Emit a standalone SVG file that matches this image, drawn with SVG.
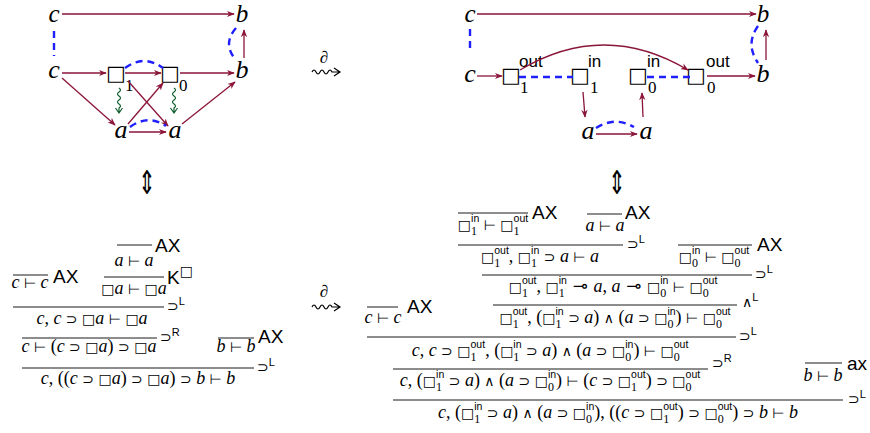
<svg xmlns="http://www.w3.org/2000/svg" width="870" height="433" viewBox="0 0 870 433">
<style>
.v{font-family:"Liberation Serif",serif;font-style:italic;font-size:26px;text-anchor:middle}
.vt{font-family:"Liberation Serif",serif;font-style:italic;font-size:25px;text-anchor:middle}
.dg{font-family:"Liberation Serif",serif;font-size:17px}
.sq{font-family:"DejaVu Sans",sans-serif;font-size:21px;text-anchor:middle}
.ss{font-family:"Liberation Sans",sans-serif;font-size:17px}
.e{fill:none;stroke:#8a1538;stroke-width:1.3;marker-end:url(#ah)}
.d{fill:none;stroke:#1f1fff;stroke-width:2.4;stroke-dasharray:7 5}
.g{fill:none;stroke:#0e5e2e;stroke-width:1.2}
.k{fill:none;stroke:#000;stroke-width:1.2}
.pl{stroke:#000;stroke-width:0.9}
.t{font-family:"Liberation Serif","DejaVu Serif",serif;font-size:18px;text-anchor:middle}
.i{font-style:italic}
.o{font-family:"DejaVu Sans",sans-serif;font-size:14px}
.ml{font-family:"DejaVu Sans",sans-serif;font-size:18px}
.b{font-family:"DejaVu Sans",sans-serif;font-size:14px}
.u{font-family:"Liberation Serif",serif;font-size:12px}
.p{font-family:"Liberation Sans",sans-serif;font-size:10.5px}
.lb{font-family:"Liberation Sans",sans-serif;font-size:19px}
.ls{font-family:"Liberation Sans",sans-serif;font-size:11px}
.ar{font-family:"DejaVu Sans",sans-serif;font-size:26px;text-anchor:middle}
</style>
<defs>
<marker id="ah" viewBox="0 0 10 10" refX="9" refY="5" markerWidth="8" markerHeight="8" markerUnits="userSpaceOnUse" orient="auto"><path d="M0,1 L10,5 L0,9 L3,5 z" fill="#8a1538"/></marker>
</defs>

<!-- top-left diagram -->
<g id="tl-c1"><text class="vt" x="54" y="22">c</text></g>
<g id="tl-b1"><text class="vt" x="242" y="22">b</text></g>
<g id="tl-c2"><text class="v" x="54" y="78">c</text></g>
<g id="tl-box1"><text class="sq" x="116" y="80">□</text><text class="dg" x="125" y="91">1</text></g>
<g id="tl-box0"><text class="sq" x="170" y="80">□</text><text class="dg" x="179" y="91">0</text></g>
<g id="tl-b2"><text class="v" x="242" y="78">b</text></g>
<g id="tl-a1"><text class="v" x="121" y="138">a</text></g>
<g id="tl-a2"><text class="v" x="175" y="138">a</text></g>

<!-- top-right diagram -->
<g id="tr-c1"><text class="vt" x="470" y="22">c</text></g>
<g id="tr-b1"><text class="vt" x="763" y="22">b</text></g>
<g id="tr-c2"><text class="v" x="470" y="82">c</text></g>
<g id="tr-box1out"><text class="sq" x="511" y="82">□</text><text class="ss" x="519" y="67">out</text><text class="dg" x="520" y="93">1</text></g>
<g id="tr-box1in"><text class="sq" x="580" y="82">□</text><text class="ss" x="588" y="67">in</text><text class="dg" x="590" y="93">1</text></g>
<g id="tr-box0in"><text class="sq" x="638" y="82">□</text><text class="ss" x="647" y="67">in</text><text class="dg" x="648" y="93">0</text></g>
<g id="tr-box0out"><text class="sq" x="696" y="82">□</text><text class="ss" x="706" y="67">out</text><text class="dg" x="707" y="93">0</text></g>
<g id="tr-b2"><text class="v" x="763" y="82">b</text></g>
<g id="tr-a1"><text class="v" x="588" y="139">a</text></g>
<g id="tr-a2"><text class="v" x="646" y="139">a</text></g>

<g id="connectors">
<path class="e" d="M62,14 H234"/>
<path class="e" d="M62,73 H106"/>
<path class="e" d="M125,73 H161"/>
<path class="e" d="M180,73 H234"/>
<path class="e" d="M62,78 L115,125"/>
<path class="e" d="M128,81 L168,126"/>
<path class="e" d="M128,124 L163,83"/>
<path class="e" d="M182,124 L235,82"/>
<path class="e" d="M129,132 H166"/>
<path class="e" d="M244,58 V30"/>
<path class="d" d="M54,31 V56"/>
<path class="d" d="M125,68 Q144,54 163,68"/>
<path class="d" d="M130,127 Q148,114 166,126"/>
<path class="d" d="M236,28 Q222,44 236,60"/>
<path class="g" d="M119,88 q3,2 0,4 q-3,2 0,4 q3,2 0,4 q-3,2 0,4 q3,2 0,4 l0,5 M115.5,108 L119,113 L122.5,108"/>
<path class="g" d="M174,88 q3,2 0,4 q-3,2 0,4 q3,2 0,4 q-3,2 0,4 q3,2 0,4 l0,5 M170.5,108 L174,113 L177.5,108"/>

<path class="e" d="M477,14 H756"/>
<path class="e" d="M477,76 H502"/>
<path class="e" d="M707,76 H755"/>
<path class="e" d="M520,70 Q604,20 688,70"/>
<path class="e" d="M583,92 L585,117"/>
<path class="e" d="M643,117 L642,93"/>
<path class="e" d="M596,134 H637"/>
<path class="e" d="M766,60 V30"/>
<path class="d" d="M470,29 V53"/>
<path class="d" d="M519,77 H573"/>
<path class="d" d="M647,77 H690"/>
<path class="d" d="M596,128 Q615,116 634,127"/>
<path class="d" d="M758,26 Q745,44 758,63"/>

<path class="k" d="M312,72 q2,-4 4,0 q2,4 4,0 q2,-4 4,0 q2,4 4,0 q2,-4 4,0 l8,0 M334,68 L340,72 L334,76"/>
<path class="k" d="M312,307 q2,-4 4,0 q2,4 4,0 q2,-4 4,0 q2,4 4,0 q2,-4 4,0 l8,0 M334,303 L340,307 L334,311"/>
</g>

<g id="between">
<text x="324" y="63" font-family="Liberation Serif, serif" font-style="italic" font-size="17" text-anchor="middle">∂</text>
<text x="324" y="297" font-family="Liberation Serif, serif" font-style="italic" font-size="17" text-anchor="middle">∂</text>
<text class="ar" transform="translate(147,194) scale(0.8,1.25)">⇕</text>
<text class="ar" transform="translate(617,194) scale(0.8,1.25)">⇕</text>
</g>

<!-- left proof -->
<g id="proof-left">
<line class="pl" x1="117" y1="245" x2="152" y2="245"/>
<text class="lb" x="155" y="252">AX</text>
<text class="t" x="134" y="266"><tspan class="i">a</tspan><tspan class="o"> ⊢ </tspan><tspan class="i">a</tspan></text>
<line class="pl" x1="13" y1="275" x2="48" y2="275"/>
<text class="lb" x="53" y="283">AX</text>
<text class="t" x="30" y="288"><tspan class="i">c</tspan><tspan class="o"> ⊢ </tspan><tspan class="i">c</tspan></text>
<line class="pl" x1="104" y1="277" x2="164" y2="277"/>
<text class="lb" x="167" y="284">K<tspan class="b" font-size="8" dy="-8">□</tspan></text>
<text class="t" x="134" y="294"><tspan class="b">□</tspan><tspan class="i">a</tspan><tspan class="o"> ⊢ </tspan><tspan class="b">□</tspan><tspan class="i">a</tspan></text>
<line class="pl" x1="13" y1="307" x2="164" y2="307"/>
<text x="167" y="311"><tspan class="o">⊃</tspan><tspan class="ls" dy="-6">L</tspan></text>
<text class="t" x="92" y="324"><tspan class="i">c</tspan>, <tspan class="i">c</tspan><tspan class="o"> ⊃ </tspan><tspan class="b">□</tspan><tspan class="i">a</tspan><tspan class="o"> ⊢ </tspan><tspan class="b">□</tspan><tspan class="i">a</tspan></text>
<line class="pl" x1="22" y1="338" x2="157" y2="338"/>
<text x="160" y="342"><tspan class="o">⊃</tspan><tspan class="ls" dy="-6">R</tspan></text>
<text class="t" x="89" y="352"><tspan class="i">c</tspan><tspan class="o"> ⊢ </tspan>(<tspan class="i">c</tspan><tspan class="o"> ⊃ </tspan><tspan class="b">□</tspan><tspan class="i">a</tspan>)<tspan class="o"> ⊃ </tspan><tspan class="b">□</tspan><tspan class="i">a</tspan></text>
<line class="pl" x1="218" y1="338" x2="254" y2="338"/>
<text class="lb" x="258" y="343">AX</text>
<text class="t" x="236" y="352"><tspan class="i">b</tspan><tspan class="o"> ⊢ </tspan><tspan class="i">b</tspan></text>
<line class="pl" x1="22" y1="368" x2="254" y2="368"/>
<text x="257" y="372"><tspan class="o">⊃</tspan><tspan class="ls" dy="-6">L</tspan></text>
<text class="t" x="138" y="384"><tspan class="i">c</tspan>, ((<tspan class="i">c</tspan><tspan class="o"> ⊃ </tspan><tspan class="b">□</tspan><tspan class="i">a</tspan>)<tspan class="o"> ⊃ </tspan><tspan class="b">□</tspan><tspan class="i">a</tspan>)<tspan class="o"> ⊃ </tspan><tspan class="i">b</tspan><tspan class="o"> ⊢ </tspan><tspan class="i">b</tspan></text>
</g>

<!-- right proof -->
<g id="proof-right">
<line class="pl" x1="458" y1="213" x2="528" y2="213"/>
<text class="lb" x="532" y="219">AX</text>
<text class="t" x="493" y="230"><tspan class="b">□</tspan><tspan class="u" dy="5">1</tspan><tspan class="p" dx="-6" dy="-13">in</tspan><tspan class="o" dy="8"> ⊢ </tspan><tspan class="b">□</tspan><tspan class="u" dy="5">1</tspan><tspan class="p" dx="-6" dy="-13">out</tspan></text>
<line class="pl" x1="587" y1="214" x2="622" y2="214"/>
<text class="lb" x="625" y="219">AX</text>
<text class="t" x="605" y="231"><tspan class="i">a</tspan><tspan class="o"> ⊢ </tspan><tspan class="i">a</tspan></text>
<line class="pl" x1="458" y1="245" x2="623" y2="245"/>
<text x="627" y="249"><tspan class="o">⊃</tspan><tspan class="ls" dy="-6">L</tspan></text>
<text class="t" x="540" y="262"><tspan class="b">□</tspan><tspan class="u" dy="5">1</tspan><tspan class="p" dx="-6" dy="-13">out</tspan><tspan dy="8">, </tspan><tspan class="b">□</tspan><tspan class="u" dy="5">1</tspan><tspan class="p" dx="-6" dy="-13">in</tspan><tspan class="o" dy="8"> ⊃ </tspan><tspan class="i">a</tspan><tspan class="o"> ⊢ </tspan><tspan class="i">a</tspan></text>
<line class="pl" x1="678" y1="245" x2="752" y2="245"/>
<text class="lb" x="757" y="251">AX</text>
<text class="t" x="714" y="262"><tspan class="b">□</tspan><tspan class="u" dy="5">0</tspan><tspan class="p" dx="-6" dy="-13">in</tspan><tspan class="o" dy="8"> ⊢ </tspan><tspan class="b">□</tspan><tspan class="u" dy="5">0</tspan><tspan class="p" dx="-6" dy="-13">out</tspan></text>
<line class="pl" x1="482" y1="275" x2="752" y2="275"/>
<text x="755" y="279"><tspan class="o">⊃</tspan><tspan class="ls" dy="-6">L</tspan></text>
<text class="t" x="613" y="292"><tspan class="b">□</tspan><tspan class="u" dy="5">1</tspan><tspan class="p" dx="-6" dy="-13">out</tspan><tspan dy="8">, </tspan><tspan class="b">□</tspan><tspan class="u" dy="5">1</tspan><tspan class="p" dx="-6" dy="-13">in</tspan><tspan class="ml" dy="8"> ⊸ </tspan><tspan class="i">a</tspan>, <tspan class="i">a</tspan><tspan class="ml"> ⊸ </tspan><tspan class="b">□</tspan><tspan class="u" dy="5">0</tspan><tspan class="p" dx="-6" dy="-13">in</tspan><tspan class="o" dy="8"> ⊢ </tspan><tspan class="b">□</tspan><tspan class="u" dy="5">0</tspan><tspan class="p" dx="-6" dy="-13">out</tspan></text>
<line class="pl" x1="493" y1="305" x2="737" y2="305"/>
<text x="742" y="307"><tspan class="o">∧</tspan><tspan class="ls" dy="-6">L</tspan></text>
<line class="pl" x1="367" y1="307" x2="398" y2="307"/>
<text class="lb" x="407" y="313">AX</text>
<text class="t" x="383" y="323"><tspan class="i">c</tspan><tspan class="o"> ⊢ </tspan><tspan class="i">c</tspan></text>
<text class="t" x="615" y="323"><tspan class="b">□</tspan><tspan class="u" dy="5">1</tspan><tspan class="p" dx="-6" dy="-13">out</tspan><tspan dy="8">, (</tspan><tspan class="b">□</tspan><tspan class="u" dy="5">1</tspan><tspan class="p" dx="-6" dy="-13">in</tspan><tspan class="o" dy="8"> ⊃ </tspan><tspan class="i">a</tspan>)<tspan class="o"> ∧ </tspan>(<tspan class="i">a</tspan><tspan class="o"> ⊃ </tspan><tspan class="b">□</tspan><tspan class="u" dy="5">0</tspan><tspan class="p" dx="-6" dy="-13">in</tspan><tspan dy="8">)</tspan><tspan class="o"> ⊢ </tspan><tspan class="b">□</tspan><tspan class="u" dy="5">0</tspan><tspan class="p" dx="-6" dy="-13">out</tspan></text>
<line class="pl" x1="367" y1="337" x2="736" y2="337"/>
<text x="739" y="341"><tspan class="o">⊃</tspan><tspan class="ls" dy="-6">L</tspan></text>
<text class="t" x="550" y="356"><tspan class="i">c</tspan>, <tspan class="i">c</tspan><tspan class="o"> ⊃ </tspan><tspan class="b">□</tspan><tspan class="u" dy="5">1</tspan><tspan class="p" dx="-6" dy="-13">out</tspan><tspan dy="8">, (</tspan><tspan class="b">□</tspan><tspan class="u" dy="5">1</tspan><tspan class="p" dx="-6" dy="-13">in</tspan><tspan class="o" dy="8"> ⊃ </tspan><tspan class="i">a</tspan>)<tspan class="o"> ∧ </tspan>(<tspan class="i">a</tspan><tspan class="o"> ⊃ </tspan><tspan class="b">□</tspan><tspan class="u" dy="5">0</tspan><tspan class="p" dx="-6" dy="-13">in</tspan><tspan dy="8">)</tspan><tspan class="o"> ⊢ </tspan><tspan class="b">□</tspan><tspan class="u" dy="5">0</tspan><tspan class="p" dx="-6" dy="-13">out</tspan></text>
<line class="pl" x1="393" y1="369" x2="708" y2="369"/>
<text x="712" y="368"><tspan class="o">⊃</tspan><tspan class="ls" dy="-6">R</tspan></text>
<text class="t" x="550" y="386"><tspan class="i">c</tspan>, (<tspan class="b">□</tspan><tspan class="u" dy="5">1</tspan><tspan class="p" dx="-6" dy="-13">in</tspan><tspan class="o" dy="8"> ⊃ </tspan><tspan class="i">a</tspan>)<tspan class="o"> ∧ </tspan>(<tspan class="i">a</tspan><tspan class="o"> ⊃ </tspan><tspan class="b">□</tspan><tspan class="u" dy="5">0</tspan><tspan class="p" dx="-6" dy="-13">in</tspan><tspan dy="8">)</tspan><tspan class="o"> ⊢ </tspan>(<tspan class="i">c</tspan><tspan class="o"> ⊃ </tspan><tspan class="b">□</tspan><tspan class="u" dy="5">1</tspan><tspan class="p" dx="-6" dy="-13">out</tspan><tspan dy="8">)</tspan><tspan class="o"> ⊃ </tspan><tspan class="b">□</tspan><tspan class="u" dy="5">0</tspan><tspan class="p" dx="-6" dy="-13">out</tspan></text>
<line class="pl" x1="805" y1="363" x2="842" y2="363"/>
<text class="lb" x="847" y="370">ax</text>
<text class="t" x="823" y="381"><tspan class="i">b</tspan><tspan class="o"> ⊢ </tspan><tspan class="i">b</tspan></text>
<line class="pl" x1="393" y1="400" x2="843" y2="400"/>
<text x="848" y="404"><tspan class="o">⊃</tspan><tspan class="ls" dy="-6">L</tspan></text>
<text class="t" x="618" y="418"><tspan class="i">c</tspan>, (<tspan class="b">□</tspan><tspan class="u" dy="5">1</tspan><tspan class="p" dx="-6" dy="-13">in</tspan><tspan class="o" dy="8"> ⊃ </tspan><tspan class="i">a</tspan>)<tspan class="o"> ∧ </tspan>(<tspan class="i">a</tspan><tspan class="o"> ⊃ </tspan><tspan class="b">□</tspan><tspan class="u" dy="5">0</tspan><tspan class="p" dx="-6" dy="-13">in</tspan><tspan dy="8">), ((</tspan><tspan class="i">c</tspan><tspan class="o"> ⊃ </tspan><tspan class="b">□</tspan><tspan class="u" dy="5">1</tspan><tspan class="p" dx="-6" dy="-13">out</tspan><tspan dy="8">)</tspan><tspan class="o"> ⊃ </tspan><tspan class="b">□</tspan><tspan class="u" dy="5">0</tspan><tspan class="p" dx="-6" dy="-13">out</tspan><tspan dy="8">)</tspan><tspan class="o"> ⊃ </tspan><tspan class="i">b</tspan><tspan class="o"> ⊢ </tspan><tspan class="i">b</tspan></text>
</g>
</svg>
